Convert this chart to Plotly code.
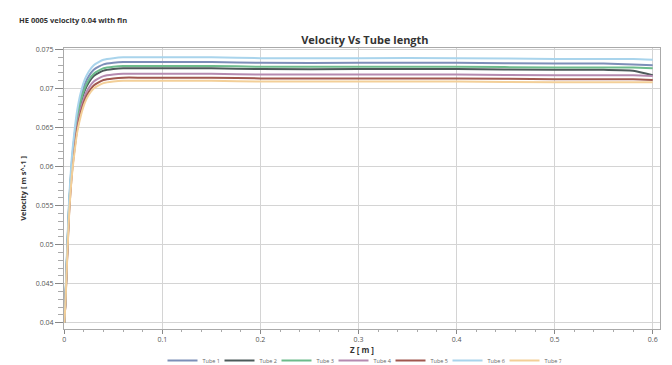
import plotly.graph_objects as go

z = [0, 0.001, 0.002, 0.003, 0.005, 0.0075, 0.01, 0.013, 0.017, 0.021, 0.025, 0.03, 0.035,
     0.04, 0.05, 0.06, 0.08, 0.1, 0.15, 0.2, 0.3, 0.4, 0.5, 0.55, 0.58, 0.6]

tube1 = [0.0400, 0.0425, 0.0460, 0.0495, 0.0555, 0.0603, 0.0635, 0.0665, 0.0690, 0.0706, 0.0716, 0.0724, 0.0728,
         0.0731, 0.0733, 0.0734, 0.0734, 0.0734, 0.0734, 0.0733, 0.0733, 0.0733, 0.0732, 0.0732, 0.0731, 0.0730]
tube2 = [0.0400, 0.0423, 0.0457, 0.0491, 0.0550, 0.0597, 0.0628, 0.0658, 0.0682, 0.0698, 0.0708, 0.0716, 0.0720,
         0.0723, 0.0725, 0.0726, 0.0726, 0.0726, 0.0726, 0.0725, 0.0725, 0.0725, 0.0724, 0.0724, 0.0723, 0.0717]
tube3 = [0.0400, 0.0424, 0.0458, 0.0493, 0.0552, 0.0599, 0.0631, 0.0661, 0.0685, 0.0701, 0.0711, 0.0719, 0.0723,
         0.0726, 0.0728, 0.0729, 0.0729, 0.0729, 0.0729, 0.0728, 0.0728, 0.0728, 0.0727, 0.0727, 0.0727, 0.0726]
tube4 = [0.0400, 0.0422, 0.0455, 0.0488, 0.0546, 0.0592, 0.0622, 0.0651, 0.0675, 0.0691, 0.0701, 0.0709, 0.0713,
         0.0716, 0.0718, 0.0719, 0.0719, 0.0719, 0.0719, 0.0718, 0.0718, 0.0718, 0.0717, 0.0717, 0.0717, 0.0716]
tube5 = [0.0400, 0.0421, 0.0453, 0.0486, 0.0543, 0.0588, 0.0618, 0.0647, 0.0670, 0.0686, 0.0696, 0.0704, 0.0708,
         0.0711, 0.0713, 0.0714, 0.0714, 0.0714, 0.0714, 0.0713, 0.0713, 0.0713, 0.0712, 0.0712, 0.0712, 0.0711]
tube6 = [0.0400, 0.0427, 0.0463, 0.0499, 0.0560, 0.0609, 0.0641, 0.0671, 0.0696, 0.0712, 0.0722, 0.0730, 0.0734,
         0.0737, 0.0739, 0.0740, 0.0740, 0.0740, 0.0740, 0.0739, 0.0739, 0.0739, 0.0738, 0.0738, 0.0738, 0.0737]
tube7 = [0.0400, 0.0420, 0.0451, 0.0484, 0.0540, 0.0585, 0.0614, 0.0643, 0.0666, 0.0682, 0.0692, 0.0700, 0.0704,
         0.0707, 0.0709, 0.0710, 0.0710, 0.0710, 0.0710, 0.0709, 0.0709, 0.0709, 0.0708, 0.0708, 0.0708, 0.0708]

names = ["Tube 1", "Tube 2", "Tube 3", "Tube 4", "Tube 5", "Tube 6", "Tube 7"]
series = [tube1, tube2, tube3, tube4, tube5, tube6, tube7]
colors = ["#7d8fb8", "#4d5a5a", "#6dbb8c", "#b58ab0", "#a0574f", "#a9d4ec", "#f3cf98"]

y_ticks = [0.04, 0.045, 0.05, 0.055, 0.06, 0.065, 0.07, 0.075]
y_labels = ["0.04", "0.045", "0.05", "0.055", "0.06", "0.065", "0.07", "0.075"]
x_ticks = [0, 0.1, 0.2, 0.3, 0.4, 0.5, 0.6]
x_labels = ["0", "0.1", "0.2", "0.3", "0.4", "0.5", "0.6"]

fig = go.Figure()
for name, vals, col in zip(names, series, colors):
    fig.add_trace(go.Scatter(x=z, y=vals, mode="lines", name=name,
                             line=dict(color=col, width=2, shape="spline", smoothing=0.6)))

font = "Open Sans, DejaVu Sans, sans-serif"
fig.update_layout(
    width=672, height=365,
    margin=dict(l=64, r=12, t=48, b=36, autoexpand=False),
    paper_bgcolor="white", plot_bgcolor="white",
    font=dict(family=font, size=6, color="#444"),
    title=dict(text="<b>Velocity Vs Tube length</b>", x=0.543, xanchor="center",
               y=1 - 40 / 365, yanchor="middle", font=dict(size=11, color="#333")),
    showlegend=True,
    legend=dict(orientation="h", x=0.5, xanchor="center", y=-(375 - 329) / 281, yanchor="bottom",
                bgcolor="rgba(0,0,0,0)",
                font=dict(size=5.5, color="#666"), itemwidth=30, tracegroupgap=0,
                entrywidth=12, entrywidthmode="pixels"),
    annotations=[dict(text="<b>HE 0005 velocity 0.04 with fin</b>", xref="paper", yref="paper",
                      x=(17 - 64) / 596, y=(329 - 20) / 281, xanchor="left", yanchor="middle",
                      showarrow=False, font=dict(size=7.5, color="#333333"))],
)
fig.update_xaxes(range=[-0.0003, 0.6074], tickvals=x_ticks, ticktext=x_labels, automargin=False,
                 showgrid=True, gridcolor="#d4d4d4", gridwidth=1,
                 showline=True, linecolor="#aaa", mirror=True, zeroline=False,
                 ticks="outside", ticklen=4, tickcolor="#888",
                 minor=dict(dtick=0.02, ticks="outside", ticklen=2, tickcolor="#aaa", showgrid=False),
                 tickfont=dict(size=7, color="#555"),
                 title=dict(text="<b>Z [ m ]</b>", font=dict(size=8, color="#333"), standoff=0))
fig.update_yaxes(range=[0.0392, 0.0752], tickvals=y_ticks, ticktext=y_labels, automargin=False,
                 showgrid=True, gridcolor="#d4d4d4", gridwidth=1,
                 showline=True, linecolor="#aaa", mirror=True, zeroline=False,
                 ticks="outside", ticklen=8, tickcolor="#888",
                 minor=dict(dtick=0.001, ticks="outside", ticklen=5, tickcolor="#aaa", showgrid=False),
                 tickfont=dict(size=7, color="#555"),
                 title=dict(text="<b>Velocity [ m s^-1 ]</b>", font=dict(size=7.5, color="#333"), standoff=8))

fig.write_html("out.html", config={"displayModeBar": False},
               post_script="document.body.style.margin='0';")
